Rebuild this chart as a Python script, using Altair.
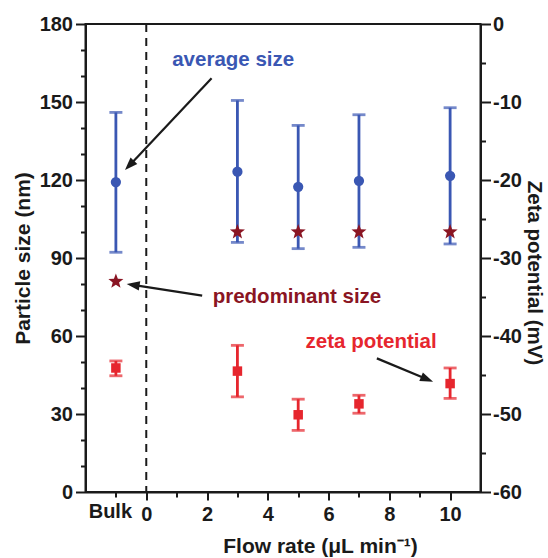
import math
import altair as alt
import pandas as pd

# ---------------- data ----------------
flow = [-1, 3, 5, 7, 10]                       # -1 = "Bulk"
avg_size = [119.2, 123.2, 117.4, 119.7, 121.6]
avg_lo = [92.2, 96.0, 93.6, 94.1, 95.4]
avg_hi = [146.0, 150.6, 141.0, 145.1, 147.8]
pred_size = [81, 100, 100, 100, 100]
zeta = [-44.1, -44.5, -50.1, -48.7, -46.1]
zeta_lo = [-45.1, -47.8, -52.1, -49.9, -48.0]
zeta_hi = [-43.2, -41.2, -48.1, -47.6, -44.1]

divider_x = [0]

ann_text = ["average size", "predominant size", "zeta potential"]
ann_x = [2.86, 4.96, 7.40]
ann_y = [166.2, 74.9, 57.8]

arrow_x1 = [2.15, 1.84, 7.59]
arrow_y1 = [159.1, 75.5, 51.4]
arrow_x2 = [-0.70, -0.645, 9.44]
arrow_y2 = [123.8, 80.0, 42.4]

# ---------------- style ----------------
BLUE = "#3a57b3"
DARKRED = "#8a1523"
RED = "#e6262e"
BLACK = "#1a1a1a"
FONT = "Liberation Sans"
W, H = 395, 468
XDOM = [-2, 11]
YDOM = [0, 180]
ZDOM = [-60, 0]

ann_color = [BLUE, DARKRED, RED]

# star symbol path
pts = []
for k in range(10):
    r = 1.0 if k % 2 == 0 else 0.42
    a = math.radians(-90 + 36 * k)
    pts.append(f"{r * math.cos(a):.3f},{r * math.sin(a):.3f}")
STAR = "M" + "L".join(pts) + "Z"
HEAD = "M0,0L-0.36,1L0.36,1Z"
HEAD_LEN = 13

df = pd.DataFrame({
    "flow": flow, "avg": avg_size, "avg_lo": avg_lo, "avg_hi": avg_hi,
    "pred": pred_size, "zeta": zeta, "zeta_lo": zeta_lo, "zeta_hi": zeta_hi,
})
ann_df = pd.DataFrame({"text": ann_text, "ax": ann_x, "ay": ann_y, "color": ann_color})

sx = W / (XDOM[1] - XDOM[0])
sy = H / (YDOM[1] - YDOM[0])
rows = []
for x1, y1, x2, y2 in zip(arrow_x1, arrow_y1, arrow_x2, arrow_y2):
    dx = (x2 - x1) * sx
    dy = -(y2 - y1) * sy
    L = math.hypot(dx, dy)
    ang = math.degrees(math.atan2(dx, -dy)) % 360
    f = max(0.0, (L - HEAD_LEN * 0.6) / L)
    rows.append({"x1": x1, "y1": y1, "xs": x1 + (x2 - x1) * f, "ys": y1 + (y2 - y1) * f,
                 "xt": x2, "yt": y2, "angle": ang})
arr_df = pd.DataFrame(rows)

# ---------------- axes ----------------
x_axis = alt.Axis(
    values=list(range(-1, 11)),
    labelExpr="datum.value == -1 ? 'Bulk' : (datum.value % 2 == 0 ? datum.label : '')",
    tickSize={"condition": {"test": "datum.value % 2 == 0", "value": 8}, "value": 5},
    labelOffset={"condition": {"test": "datum.value == -1", "value": -6}, "value": 0},
    title="Flow rate (\u03bcL min\u207b\u00b9)",
    titleX=234.5, titleY=54, titleBaseline="middle", titleAlign="center",
    labelPadding=4, grid=False,
)
y_axis = alt.Axis(
    values=list(range(0, 181, 10)),
    labelExpr="datum.value % 30 == 0 ? datum.label : ''",
    tickSize={"condition": {"test": "datum.value % 30 == 0", "value": 10}, "value": 5},
    title="Particle size (nm)", titleAngle=270,
    titleX=-62.5, titleY=234, titleBaseline="middle", titleAlign="center",
    labelPadding=3, grid=False, orient="left",
)
z_axis = alt.Axis(
    values=list(range(-60, 1, 5)),
    labelExpr="datum.value % 10 == 0 ? '' + datum.value : ''",
    tickSize={"condition": {"test": "datum.value % 10 == 0", "value": 10}, "value": 5},
    title="Zeta potential (mV)", titleAngle=90, titleFontSize=20.5,
    titleX=53, titleY=248.5, titleBaseline="middle", titleAlign="center",
    labelPadding=2, grid=False, orient="right",
)

xs = alt.Scale(domain=XDOM, nice=False, zero=False)
ys = alt.Scale(domain=YDOM, nice=False, zero=False)
zs = alt.Scale(domain=ZDOM, nice=False, zero=False)


def X(field):
    return alt.X(field, type="quantitative", scale=xs, axis=x_axis)


def Y(field):
    return alt.Y(field, type="quantitative", scale=ys, axis=y_axis)


def Z(field):
    return alt.Y(field, type="quantitative", scale=zs, axis=z_axis)


base = alt.Chart(df)

divider = alt.Chart(pd.DataFrame({"dx": divider_x})).mark_rule(
    color=BLACK, strokeWidth=2, strokeDash=[8, 6]
).encode(x=X("dx"))

blue_bar = base.mark_rule(color=BLUE, strokeWidth=2.8).encode(
    x=X("flow"), y=Y("avg_lo"), y2="avg_hi")
blue_cap_top = base.mark_tick(orient="horizontal", size=13, thickness=2.8, color=BLUE).encode(
    x=X("flow"), y=Y("avg_hi"))
blue_cap_bot = base.mark_tick(orient="horizontal", size=13, thickness=2.8, color=BLUE).encode(
    x=X("flow"), y=Y("avg_lo"))
blue_pts = base.mark_point(shape="circle", filled=True, size=105, color=BLUE, opacity=1).encode(
    x=X("flow"), y=Y("avg"))
stars = base.mark_point(shape=STAR, filled=True, size=250, color=DARKRED, opacity=1).encode(
    x=X("flow"), y=Y("pred"))

texts = alt.Chart(ann_df).mark_text(
    font=FONT, fontWeight="bold", fontSize=20.5, align="center", baseline="middle"
).encode(x=X("ax"), y=Y("ay"), text="text:N", color=alt.Color("color:N", scale=None))

shafts = alt.Chart(arr_df).mark_rule(color=BLACK, strokeWidth=2.2).encode(
    x=X("x1"), y=Y("y1"), x2="xs", y2="ys")
heads = alt.Chart(arr_df).mark_point(
    shape=HEAD, filled=True, size=(2 * HEAD_LEN) ** 2, color=BLACK, opacity=1, strokeWidth=0
).encode(x=X("xt"), y=Y("yt"), angle=alt.Angle("angle:Q", scale=None))

left = alt.layer(divider, blue_bar, blue_cap_top, blue_cap_bot, blue_pts, stars,
                 shafts, heads, texts)

red_bar = base.mark_rule(color=RED, strokeWidth=2.8).encode(
    x=X("flow"), y=Z("zeta_lo"), y2="zeta_hi")
red_cap_top = base.mark_tick(orient="horizontal", size=13, thickness=2.8, color=RED).encode(
    x=X("flow"), y=Z("zeta_hi"))
red_cap_bot = base.mark_tick(orient="horizontal", size=13, thickness=2.8, color=RED).encode(
    x=X("flow"), y=Z("zeta_lo"))
red_pts = base.mark_point(shape="square", filled=True, size=90, color=RED, opacity=1).encode(
    x=X("flow"), y=Z("zeta"))

right = alt.layer(red_bar, red_cap_top, red_cap_bot, red_pts)

chart = alt.layer(left, right).resolve_scale(y="independent").properties(
    width=W, height=H,
    autosize=alt.AutoSizeParams(type="none"),
    padding={"left": 85.5, "top": 24, "right": 548 - 85.5 - W, "bottom": 558 - 24 - H},
    background="white",
).configure_view(
    stroke=BLACK, strokeWidth=2
).configure_axis(
    domainColor=BLACK, domainWidth=2, tickColor=BLACK, tickWidth=2,
    labelFont=FONT, labelFontWeight="bold", labelFontSize=20, labelColor=BLACK,
    titleFont=FONT, titleFontWeight="bold", titleFontSize=21, titleColor=BLACK,
    labelOverlap=False,
)

chart.save("out.html", embed_options={"renderer": "svg", "actions": False})
